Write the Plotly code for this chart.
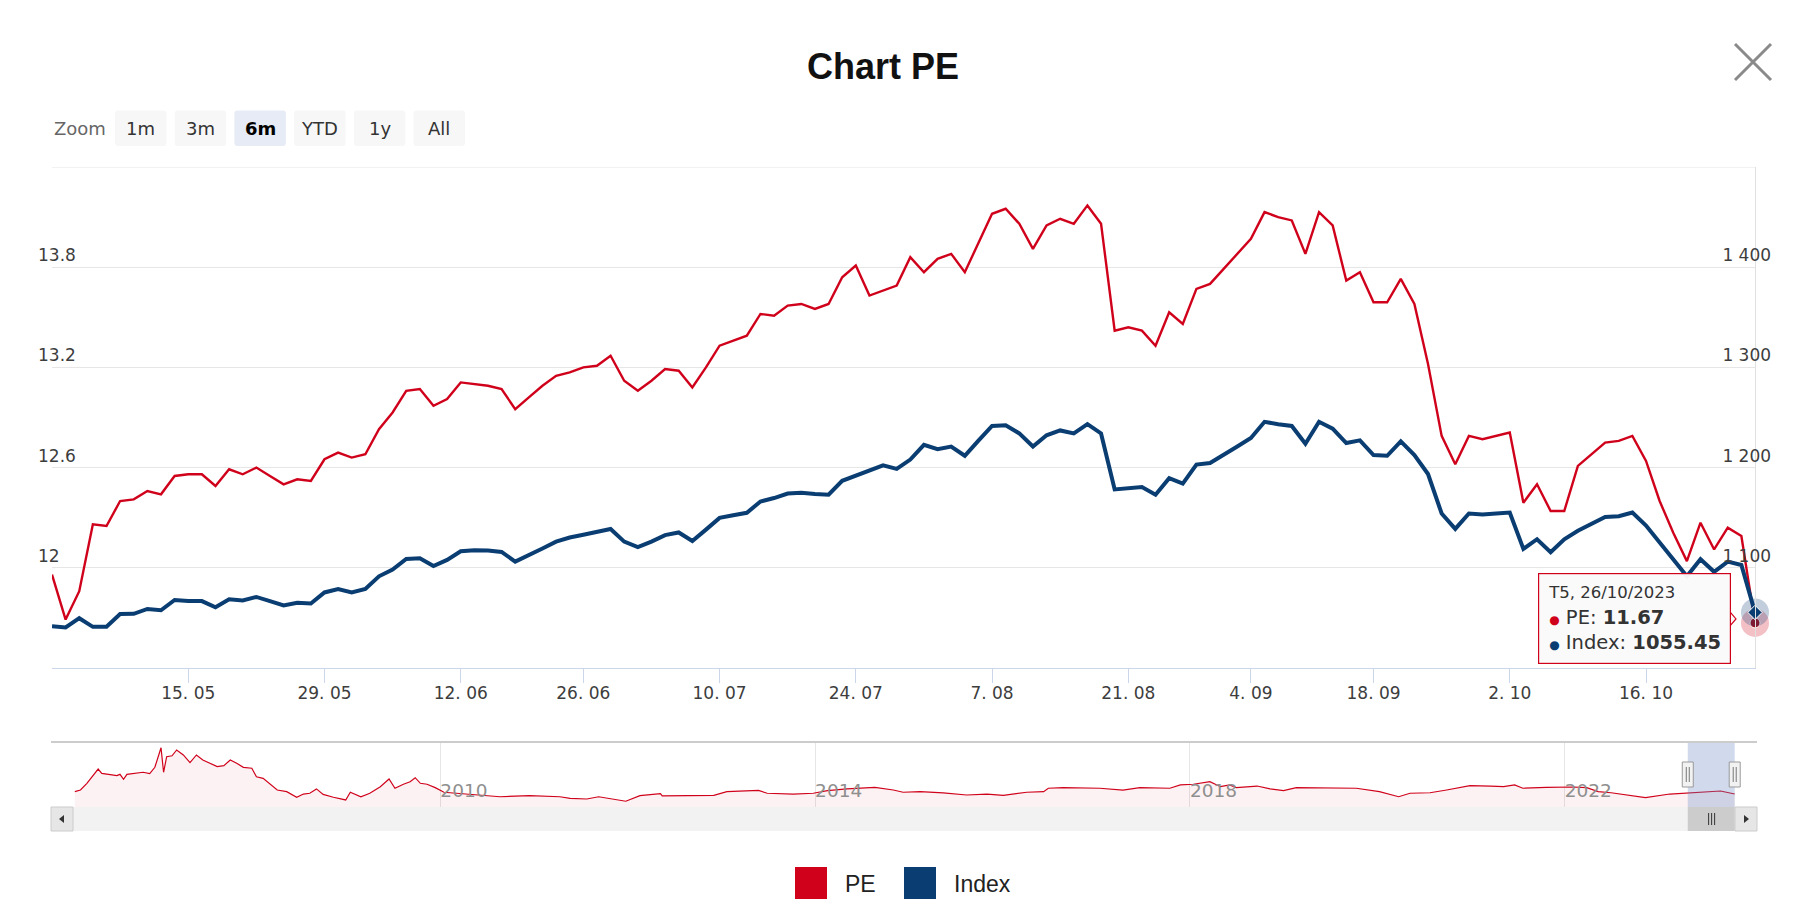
import bisect
import pandas as pd
import plotly.graph_objects as go

W, H = 1806, 912

# ---------------- data ----------------
non_trading_days = ["2023-05-01", "2023-05-02", "2023-05-03", "2023-06-20", "2023-09-01", "2023-09-04"]
dates = [d for d in pd.bdate_range("2023-04-26", "2023-10-26") if d.strftime("%Y-%m-%d") not in non_trading_days]

pe_values = [
    11.96, 11.69, 11.86, 12.26, 12.25, 12.40, 12.41, 12.46, 12.44, 12.55,
    12.56, 12.56, 12.49, 12.59, 12.56, 12.60, 12.55, 12.50, 12.53, 12.52,
    12.65, 12.69, 12.66, 12.68, 12.83, 12.93, 13.06, 13.07, 12.97, 13.01,
    13.11, 13.10, 13.09, 13.07, 12.95, 13.02, 13.09, 13.15, 13.17, 13.20,
    13.21, 13.27, 13.12, 13.06, 13.12, 13.19, 13.18, 13.08, 13.20, 13.33,
    13.36, 13.39, 13.52, 13.51, 13.57, 13.58, 13.55, 13.58, 13.74, 13.81,
    13.63, 13.66, 13.69, 13.86, 13.77, 13.85, 13.88, 13.77, 13.95, 14.12,
    14.15, 14.06, 13.91, 14.05, 14.09, 14.06, 14.17, 14.06, 13.42, 13.44,
    13.42, 13.33, 13.53, 13.46, 13.67, 13.70, 13.79, 13.88, 13.97, 14.13,
    14.10, 14.08, 13.88, 14.13, 14.05, 13.72, 13.77, 13.59, 13.59, 13.73,
    13.58, 13.22, 12.79, 12.62, 12.79, 12.77, 12.79, 12.81, 12.39, 12.50,
    12.34, 12.34, 12.61, 12.68, 12.75, 12.76, 12.79, 12.64, 12.40, 12.21,
    12.04, 12.27, 12.11, 12.24, 12.19, 11.67,
]
index_values = [
    1041.8, 1040.4, 1049.7, 1041.1, 1041.1, 1053.8, 1054.1, 1058.9, 1057.6, 1067.9,
    1066.8, 1066.8, 1060.6, 1068.5, 1067.5, 1070.9, 1066.8, 1062.4, 1065.1, 1064.4,
    1075.4, 1078.8, 1075.4, 1078.8, 1091.5, 1098.3, 1108.9, 1109.6, 1101.8, 1107.9,
    1116.5, 1117.5, 1117.2, 1115.8, 1106.2, 1112.4, 1119.3, 1126.1, 1130.2, 1133.0,
    1135.5, 1138.8, 1126.1, 1120.6, 1126.1, 1132.6, 1135.3, 1126.8, 1138.1, 1149.8,
    1152.5, 1154.9, 1166.2, 1169.6, 1174.1, 1174.8, 1173.7, 1173.0, 1186.8, 1191.9,
    1197.7, 1202.2, 1198.7, 1208.0, 1222.7, 1218.3, 1221.0, 1211.8, 1226.9, 1241.6,
    1242.3, 1234.1, 1221.0, 1232.3, 1237.1, 1234.1, 1243.3, 1234.1, 1178.2, 1179.9,
    1180.6, 1173.0, 1189.5, 1184.0, 1203.0, 1204.6, 1212.5, 1221.0, 1229.6, 1245.7,
    1243.3, 1241.6, 1223.8, 1245.7, 1238.9, 1224.5, 1227.2, 1212.5, 1211.8, 1226.2,
    1212.5, 1193.6, 1154.2, 1138.8, 1154.2, 1153.2, 1154.2, 1155.2, 1118.9, 1128.5,
    1115.5, 1128.5, 1137.0, 1143.9, 1150.8, 1151.4, 1155.2, 1142.2, 1125.1, 1108.0,
    1091.5, 1108.6, 1096.0, 1106.2, 1102.8, 1055.45,
]

tick_dates = ["2023-05-15", "2023-05-29", "2023-06-12", "2023-06-26", "2023-07-10", "2023-07-24",
              "2023-08-07", "2023-08-21", "2023-09-04", "2023-09-18", "2023-10-02", "2023-10-16"]
pe_ticks = [11.4, 12.0, 12.6, 13.2, 13.8, 14.4]
index_ticks = [1000, 1100, 1200, 1300, 1400, 1500]

nav_dates = [
    "2006-02-06", "2006-02-28", "2006-03-25", "2006-04-20", "2006-05-08", "2006-05-22", "2006-06-25", "2006-07-20",
    "2006-08-01", "2006-08-15", "2006-08-28", "2006-10-05", "2006-10-30", "2006-11-25", "2006-12-15",
    "2007-01-08", "2007-01-18", "2007-01-30", "2007-02-20", "2007-03-10", "2007-04-05", "2007-05-01", "2007-05-26",
    "2007-06-20", "2007-07-18", "2007-08-15", "2007-09-10", "2007-10-05", "2007-10-30", "2007-11-25", "2007-12-28",
    "2008-01-15", "2008-02-10", "2008-03-10", "2008-04-05", "2008-05-12", "2008-06-20", "2008-07-16", "2008-08-10",
    "2008-09-05", "2008-10-01", "2008-11-10", "2008-12-28",
    "2009-01-15", "2009-02-25", "2009-04-01", "2009-05-12", "2009-06-15", "2009-07-08", "2009-08-10", "2009-09-05",
    "2009-09-25", "2009-10-15", "2009-11-10", "2009-12-12",
    "2010-01-15", "2010-03-08", "2010-05-12", "2010-08-22", "2010-12-15",
    "2011-04-12", "2011-05-22", "2011-07-26", "2011-09-10", "2011-11-06", "2011-12-25",
    "2012-02-18", "2012-05-08", "2012-05-15", "2012-07-22", "2012-10-12", "2012-12-02",
    "2013-01-22", "2013-03-28", "2013-05-25", "2013-06-28", "2013-10-08", "2013-12-25",
    "2014-02-18", "2014-05-05", "2014-08-22", "2014-11-02", "2014-12-10",
    "2015-02-15", "2015-05-15", "2015-08-15", "2015-11-02",
    "2016-01-05", "2016-04-05", "2016-06-10", "2016-06-28", "2016-08-25", "2016-10-30",
    "2017-01-15", "2017-04-15", "2017-06-20", "2017-10-15", "2017-11-25",
    "2018-01-15", "2018-03-20", "2018-04-30", "2018-06-05", "2018-07-01", "2018-09-20", "2018-11-10",
    "2019-01-01", "2019-02-20", "2019-07-01", "2019-10-12",
    "2020-01-10", "2020-03-25", "2020-05-08", "2020-07-25", "2020-09-28", "2020-12-28",
    "2021-03-18", "2021-05-08", "2021-06-20", "2021-07-22", "2021-10-22",
    "2022-02-02", "2022-03-28", "2022-05-12", "2022-07-01", "2022-11-12",
    "2023-02-15", "2023-04-20", "2023-09-01", "2023-10-26",
]
nav_pe = [
    12.6, 13.6, 17.8, 23.0, 26.7, 24.0, 23.4, 22.6, 23.4, 20.3, 23.4, 24.0, 24.7, 23.8, 27.8,
    40.0, 24.7, 34.4, 35.0, 38.6, 35.5, 30.7, 35.5, 32.4, 30.3, 28.2, 28.8, 32.4, 30.3, 27.8, 27.2,
    21.9, 20.9, 16.8, 13.6, 12.6, 9.1, 11.1, 11.6, 14.3, 10.9, 9.1, 7.4,
    12.2, 9.4, 11.6, 15.7, 20.5, 14.7, 17.2, 18.8, 21.3, 17.8, 17.2, 15.1,
    12.2, 11.6, 10.9, 9.4, 10.1,
    9.4, 8.4, 8.0, 9.4, 8.0, 6.6,
    10.1, 11.3, 9.9, 9.9, 10.3, 10.3,
    12.6, 13.0, 13.4, 11.6, 11.1, 11.6,
    13.2, 14.3, 15.3, 13.6, 12.2,
    12.6, 11.8, 10.5, 11.1,
    10.3, 12.2, 12.6, 14.7, 15.1, 14.7,
    14.7, 13.6, 15.1, 14.7, 16.8,
    17.2, 18.8, 15.7, 16.8, 15.1, 16.1, 14.3,
    13.2, 15.1, 15.1, 14.7,
    12.6, 9.4, 11.6, 11.9, 13.6, 16.3,
    16.1, 15.7, 16.8, 14.7, 15.3,
    15.5, 15.1, 12.6, 11.9, 8.8,
    11.1, 11.6, 13.0, 11.1,
]
nav_year_ticks = ["2010-01-01", "2014-01-01", "2018-01-01", "2022-01-01"]

zoom_buttons = ["1m", "3m", "6m", "YTD", "1y", "All"]
selected_button = "6m"

# ---------------- styling ----------------
RED = "#D0021B"
BLUE = "#0A3D72"
TICK_FONT = dict(family="DejaVu Sans", size=17, color="#3d3d3d")


def X(px):
    return px / W


def Y(py):
    return 1 - py / H


x_idx = list(range(len(dates)))
weekday_vn = ["T2", "T3", "T4", "T5", "T6", "T7", "CN"]
hover_dates = [f"{weekday_vn[d.weekday()]}, {d:%d/%m/%Y}" for d in dates]
tick_pos = [bisect.bisect_left(dates, pd.Timestamp(t)) for t in tick_dates]
tick_text = [f"{pd.Timestamp(t).day}. {pd.Timestamp(t).month:02d}" for t in tick_dates]
pe_ticktext = ["" if v in (pe_ticks[0], pe_ticks[-1]) else f"{v:g}" for v in pe_ticks]
idx_ticktext = ["" if v in (index_ticks[0], index_ticks[-1]) else f"{v:,}".replace(",", " ") for v in index_ticks]

fig = go.Figure()

fig.add_trace(go.Scatter(
    x=x_idx, y=pe_values, name="PE", mode="lines", line=dict(color=RED, width=2.4),
    customdata=hover_dates, hovertemplate="%{customdata}<br>PE: <b>%{y:.2f}</b><extra></extra>",
    xaxis="x", yaxis="y", showlegend=False,
))
fig.add_trace(go.Scatter(
    x=x_idx, y=index_values, name="Index", mode="lines", line=dict(color=BLUE, width=4),
    customdata=hover_dates, hovertemplate="%{customdata}<br>Index: <b>%{y:.2f}</b><extra></extra>",
    xaxis="x", yaxis="y2", showlegend=False,
))

# highlighted last points (hover state)
fig.add_trace(go.Scatter(x=[x_idx[-1]], y=[pe_values[-1]], mode="markers", xaxis="x", yaxis="y",
                         marker=dict(size=28, color="rgba(208,2,27,0.25)"), cliponaxis=False,
                         hoverinfo="skip", showlegend=False))
fig.add_trace(go.Scatter(x=[x_idx[-1]], y=[index_values[-1]], mode="markers", xaxis="x", yaxis="y2",
                         marker=dict(size=28, color="rgba(10,61,114,0.25)"), cliponaxis=False,
                         hoverinfo="skip", showlegend=False))
fig.add_trace(go.Scatter(x=[x_idx[-1]], y=[pe_values[-1]], mode="markers", xaxis="x", yaxis="y",
                         marker=dict(size=10, color="#A3101F", line=dict(color="white", width=1)),
                         cliponaxis=False, hoverinfo="skip", showlegend=False))
fig.add_trace(go.Scatter(x=[x_idx[-1]], y=[index_values[-1]], mode="markers", xaxis="x", yaxis="y2",
                         marker=dict(size=11, symbol="diamond", color=BLUE, line=dict(color="white", width=1)),
                         cliponaxis=False, hoverinfo="skip", showlegend=False))

# navigator series
fig.add_trace(go.Scatter(
    x=nav_dates, y=nav_pe, mode="lines", line=dict(color=RED, width=1.2),
    fill="tozeroy", fillcolor="rgba(208,2,27,0.05)", xaxis="x2", yaxis="y3",
    hoverinfo="skip", showlegend=False,
))

shapes = []
annotations = []

# top grid line of the main plot
shapes.append(dict(type="line", xref="paper", yref="y", x0=X(52), x1=X(1755), y0=pe_ticks[-1], y1=pe_ticks[-1],
                   line=dict(color="#E6E6E6", width=1), layer="below"))


def rrect_path(x0, y0, x1, y1, r):
    return (f"M {X(x0 + r)},{Y(y0)} L {X(x1 - r)},{Y(y0)} Q {X(x1)},{Y(y0)} {X(x1)},{Y(y0 + r)} "
            f"L {X(x1)},{Y(y1 - r)} Q {X(x1)},{Y(y1)} {X(x1 - r)},{Y(y1)} "
            f"L {X(x0 + r)},{Y(y1)} Q {X(x0)},{Y(y1)} {X(x0)},{Y(y1 - r)} "
            f"L {X(x0)},{Y(y0 + r)} Q {X(x0)},{Y(y0)} {X(x0 + r)},{Y(y0)} Z")


# zoom buttons
annotations.append(dict(x=X(52), y=Y(128), xref="paper", yref="paper", text="Zoom", showarrow=False,
                        xanchor="left", yanchor="middle", font=dict(family="DejaVu Sans", size=18, color="#666666")))
for i, lab in enumerate(zoom_buttons):
    bx0 = 115 + i * 59.7
    bx1 = bx0 + 51.5
    sel = lab == selected_button
    shapes.append(dict(type="path", xref="paper", yref="paper", path=rrect_path(bx0, 110.5, bx1, 146, 3),
                       fillcolor="#E6EBF5" if sel else "#F7F7F7", line=dict(width=0), layer="below"))
    annotations.append(dict(x=X((bx0 + bx1) / 2), y=Y(128), xref="paper", yref="paper",
                            text=f"<b>{lab}</b>" if sel else lab, showarrow=False,
                            xanchor="center", yanchor="middle",
                            font=dict(family="DejaVu Sans", size=18, color="#000000" if sel else "#333333")))

# close icon
shapes.append(dict(type="line", xref="paper", yref="paper", x0=X(1735), y0=Y(44), x1=X(1771), y1=Y(80),
                   line=dict(color="#8A8A8A", width=3)))
shapes.append(dict(type="line", xref="paper", yref="paper", x0=X(1771), y0=Y(44), x1=X(1735), y1=Y(80),
                   line=dict(color="#8A8A8A", width=3)))

# navigator decorations
shapes.append(dict(type="line", xref="paper", yref="paper", x0=X(51), x1=X(1757), y0=Y(742), y1=Y(742),
                   line=dict(color="#CCCCCC", width=2)))
shapes.append(dict(type="rect", xref="x2", yref="paper", x0=dates[0], x1=dates[-1], y0=Y(807), y1=Y(743),
                   fillcolor="rgba(102,133,194,0.3)", line=dict(width=0)))
for d in (dates[0], dates[-1]):
    shapes.append(dict(type="rect", xref="x2", yref="paper", xsizemode="pixel", xanchor=d, x0=-5.5, x1=5.5,
                       y0=Y(787), y1=Y(762), fillcolor="#F2F2F2", line=dict(color="#999999", width=1)))
    for off in (-1.5, 1.5):
        shapes.append(dict(type="line", xref="x2", yref="paper", xsizemode="pixel", xanchor=d, x0=off, x1=off,
                           y0=Y(782), y1=Y(767), line=dict(color="#777777", width=1)))
# scrollbar
shapes.append(dict(type="rect", xref="paper", yref="paper", x0=X(51), x1=X(1757), y0=Y(831), y1=Y(807),
                   fillcolor="#F2F2F2", line=dict(width=0), layer="below"))
shapes.append(dict(type="rect", xref="x2", yref="paper", x0=dates[0], x1=dates[-1], y0=Y(831), y1=Y(807),
                   fillcolor="#CCCCCC", line=dict(width=0)))
mid_date = dates[len(dates) // 2]
for off in (-3, 0, 3):
    shapes.append(dict(type="line", xref="x2", yref="paper", xsizemode="pixel", xanchor=mid_date, x0=off, x1=off,
                       y0=Y(825), y1=Y(813), line=dict(color="#333333", width=1)))
for bx0, bx1, pts in ((51, 73, [(64, 815), (64, 823), (59, 819)]), (1735, 1757, [(1744, 815), (1744, 823), (1749, 819)])):
    shapes.append(dict(type="rect", xref="paper", yref="paper", x0=X(bx0), x1=X(bx1), y0=Y(831), y1=Y(807),
                       fillcolor="#E6E6E6", line=dict(color="#CCCCCC", width=1)))
    p = pts
    shapes.append(dict(type="path", xref="paper", yref="paper",
                       path=f"M {X(p[0][0])},{Y(p[0][1])} L {X(p[1][0])},{Y(p[1][1])} L {X(p[2][0])},{Y(p[2][1])} Z",
                       fillcolor="#333333", line=dict(width=0)))

# legend (large square symbols)
for sx, color, label in ((795, RED, "PE"), (904, BLUE, "Index")):
    shapes.append(dict(type="rect", xref="paper", yref="paper", x0=X(sx), x1=X(sx + 32), y0=Y(899), y1=Y(867),
                       fillcolor=color, line=dict(width=0)))
    annotations.append(dict(x=X(sx + 48), y=Y(884), xref="paper", yref="paper", text=label, showarrow=False,
                            xanchor="left", yanchor="middle",
                            font=dict(family="Liberation Sans", size=23, color="#222222")))

# tooltip for the last point
tip_text = (f"<span style='font-size:16.5px'>{hover_dates[-1]}</span><br>"
            f"<span style='color:{RED};font-size:12px'>●</span> PE: <b>{pe_values[-1]:.2f}</b><br>"
            f"<span style='color:{BLUE};font-size:12px'>●</span> Index: <b>{index_values[-1]:.2f}</b>")
annotations.append(dict(x=x_idx[-1], y=pe_values[-1], xref="x", yref="y", text=tip_text, showarrow=False,
                        xanchor="right", yanchor="middle", xshift=-24, yshift=4, align="left",
                        bgcolor="rgba(250,250,250,0.96)", bordercolor=RED, borderwidth=1.2, borderpad=9,
                        font=dict(family="DejaVu Sans", size=19.5, color="#333333")))
# tooltip pointer
shapes.append(dict(type="path", xref="x", yref="y", xsizemode="pixel", ysizemode="pixel",
                   xanchor=x_idx[-1], yanchor=pe_values[-1],
                   path="M -25,11 L -19,4 L -25,-3", fillcolor="rgba(250,250,250,1)",
                   line=dict(color=RED, width=1.2)))

fig.update_layout(
    width=W, height=H,
    margin=dict(l=0, r=0, t=0, b=0),
    autosize=False,
    paper_bgcolor="white", plot_bgcolor="white",
    separators=". ",
    title=dict(text="<b>Chart PE</b>", x=883 / W, y=Y(66), xanchor="center", yanchor="middle",
               font=dict(family="Liberation Sans", size=36, color="#111111")),
    showlegend=False,
    xaxis=dict(domain=[X(52), X(1755)], range=[x_idx[0], x_idx[-1]], anchor="y",
               tickmode="array", tickvals=tick_pos, ticktext=tick_text, tickfont=TICK_FONT,
               ticks="outside", ticklen=14, tickcolor="#CCD6EB", tickwidth=1, ticklabelstandoff=-4,
               showline=True, linecolor="#CCD6EB", linewidth=1, showgrid=False, zeroline=False,
               automargin=False, fixedrange=True),
    yaxis=dict(domain=[Y(668), Y(167)], range=[pe_ticks[0], pe_ticks[-1]], anchor="x",
               tickmode="array", tickvals=pe_ticks, ticktext=pe_ticktext, tickfont=TICK_FONT,
               ticklabelposition="inside", ticklabelstandoff=-17, ticklabelshift=-12, ticks="",
               showgrid=True, gridcolor="#E6E6E6", gridwidth=1, zeroline=False, showline=False,
               automargin=False, fixedrange=True),
    yaxis2=dict(overlaying="y", side="right", anchor="x", range=[index_ticks[0], index_ticks[-1]],
                tickmode="array", tickvals=index_ticks, ticktext=idx_ticktext, tickfont=TICK_FONT,
                ticklabelstandoff=-37, ticklabelshift=-12, ticks="",
                showgrid=False, zeroline=False, showline=True, linecolor="#E0E0E0", linewidth=1,
                automargin=False, fixedrange=True),
    xaxis2=dict(domain=[X(52), X(1756)], anchor="y3", type="date", range=["2005-11-09", "2024-01-17"],
                tickmode="array", tickvals=nav_year_ticks, ticktext=[t[:4] for t in nav_year_ticks],
                ticklabelposition="inside right", ticks="",
                tickfont=dict(family="DejaVu Sans", size=18.5, color="#8F8F8F"),
                showgrid=True, gridcolor="#E6E6E6", gridwidth=1, showline=False, zeroline=False,
                automargin=False, fixedrange=True),
    yaxis3=dict(domain=[Y(807), Y(742)], anchor="x2", range=[3, 43.6], visible=False, fixedrange=True),
    shapes=shapes,
    annotations=annotations,
)

fig.write_html("out.html", config={"displayModeBar": False},
               post_script="document.body.style.margin='0';document.body.style.overflow='hidden';")
